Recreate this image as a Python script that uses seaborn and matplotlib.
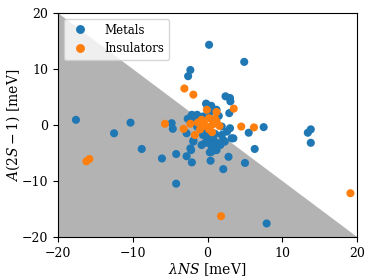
import numpy as np
import pandas as pd
import seaborn as sns
import matplotlib
matplotlib.use("Agg")
import matplotlib.pyplot as plt

# metals (lambda NS, A(2S-1)) in meV
metal_x = [-17.6, -12.5, -10.3, -8.8, -6.1, -4.2, -4.2, -2.8, -2.2, -2.1,
           -4.8, -4.65, -2.65, -2.3, -1.4, -0.6, 0.3, -1.9, 0.2, 4.9,
           -2.3, -2.6, 2.4, 3.0, 3.05, -0.2, 0.5, 2.9, 1.9, 2.6,
           1.9, 3.0, 3.45, 5.5, 7.5, 6.3, 5.0, 2.8, 2.1, 0.4,
           0.3, 1.2, 1.7, 2.3, -0.3, 0.3, 0.8, 13.8, 13.4, 13.8,
           7.9, -1.7, -1.2, -2.1, 1.2, -0.1, -2.8, 3.2, 2.1, -0.8,
           0.55, -2.3, 1.45, 0.1, -1.9, 0.55, -0.6, 1.0, -1.4, 0.9,
           -0.2, 1.5]
metal_y = [0.9, -1.5, 0.4, -4.3, -6.0, -5.2, -10.5, -5.6, -4.5, -6.7,
           0.3, -0.7, 1.1, 1.2, 1.8, 1.5, 2.2, -2.8, 14.3, 11.25,
           9.8, 8.7, 5.1, 4.8, 4.2, 3.8, 3.4, 2.1, -0.3, -1.2,
           -1.8, -0.6, -2.4, -1.4, -0.4, -4.3, -6.8, -5.7, -7.9, -6.4,
           -4.9, -4.5, -3.6, -3.0, -3.2, -3.3, -2.7, -0.8, -1.4, -3.2,
           -17.6, 0.9, 1.5, 1.8, 2.7, 3.6, -1.5, -2.4, -2.7, -3.6,
           -3.9, -4.2, -3.3, -2.4, -3.0, -4.8, -1.8, -1.6, -0.3, 0.3,
           -1.2, 1.6]

# insulators
ins_x = [-16.2, -15.8, -5.7, -3.2, -2.3, -1.7, -3.1, -1.9, -0.1, 1.2,
         3.5, 4.5, 6.2, 19.1, 1.8, -0.8, 0.2, 1.2, -0.1, 0.7,
         -1.0, 0.6, 1.6, -1.3, 0.2, 1.0, -0.5]
ins_y = [-6.5, -6.1, 0.2, -0.7, 0.2, -1.8, 6.5, 5.4, 2.7, 2.3,
         2.9, -0.3, -0.45, -12.2, -16.3, 0.9, 1.2, 0.6, -0.3, 0.1,
         -0.8, -1.3, -0.2, 0.4, -0.8, 1.1, 0.3]

df = pd.DataFrame({
    "x": metal_x + ins_x,
    "y": metal_y + ins_y,
    "kind": ["Metals"] * len(metal_x) + ["Insulators"] * len(ins_x),
})

plt.rcParams['font.family'] = ['DejaVu Serif']
plt.rcParams['mathtext.fontset'] = 'dejavuserif'

fig = plt.figure(figsize=(3.74, 2.8), dpi=100)
ax = fig.add_axes([0.155, 0.154, 0.80, 0.80])

line_x = np.array([-20, 20])
ax.fill_between(line_x, -20, -line_x, color='0.7', linewidth=0, zorder=0)

sns.scatterplot(data=df, x="x", y="y", hue="kind",
                palette={"Metals": "#1f77b4", "Insulators": "#ff7f0e"},
                s=34, linewidth=0, ax=ax, zorder=2)

ax.set_xlim(-20, 20)
ax.set_ylim(-20, 20)
ax.set_xticks([-20, -10, 0, 10, 20])
ax.set_yticks([-20, -10, 0, 10, 20])
ax.tick_params(labelsize=9, length=3.5)
ax.set_xlabel(r"$\lambda NS$ [meV]", fontsize=10, labelpad=1)
ax.set_ylabel(r"$A(2S-1)$ [meV]", fontsize=10, labelpad=0)
ax.legend(loc="upper left", fontsize=8.5, title=None, handletextpad=1.0,
          borderpad=0.4, markerscale=1.1)

fig.savefig("out.png", dpi=100)
